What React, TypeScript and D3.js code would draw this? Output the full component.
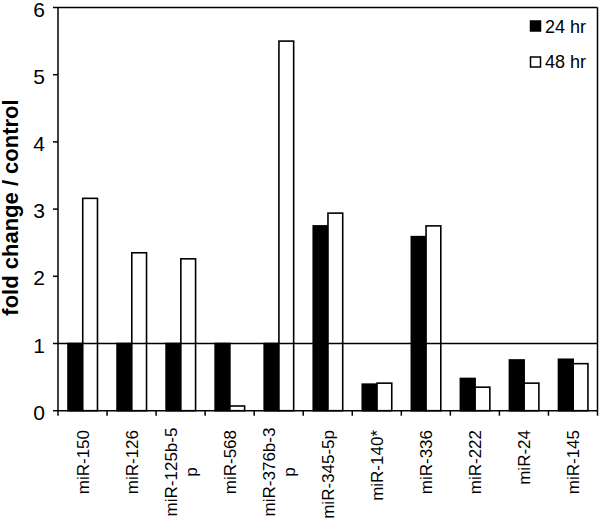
import React from "react";
import * as d3 from "d3";

const categories = [
  ["miR-150"],
  ["miR-126"],
  ["miR-125b-5", "p"],
  ["miR-568"],
  ["miR-376b-3", "p"],
  ["miR-345-5p"],
  ["miR-140*"],
  ["miR-336"],
  ["miR-222"],
  ["miR-24"],
  ["miR-145"],
];
const series24 = [1, 1, 1, 1, 1, 2.75, 0.395, 2.59, 0.48, 0.755, 0.765];
const series48 = [3.16, 2.35, 2.26, 0.07, 5.5, 2.94, 0.41, 2.75, 0.35, 0.41, 0.7];
const seriesNames = ["24 hr", "48 hr"];
const yTicks = [0, 1, 2, 3, 4, 5, 6];

const W = 600;
const H = 519;
const left = 58;
const right = 597.5;
const top = 7.5;
const bottom = 410.7;

export default function App() {
  const keys = categories.map((c) => c.join(""));
  const x0 = d3.scaleBand<string>().domain(keys).range([left, right]).padding(0);
  const bw = x0.bandwidth();
  const x1 = d3
    .scaleBand<string>()
    .domain(seriesNames)
    .range([bw * 0.204, bw * 0.805])
    .padding(0);
  const y = d3.scaleLinear().domain([0, 6]).range([bottom, top]);
  const font = "'Liberation Sans', Arial, sans-serif";
  const data = [series24, series48];

  return (
    <svg
      width={W}
      height={H}
      style={{ position: "absolute", left: 0, top: 0, background: "#fff" }}
      fontFamily={font}
    >
      <rect x={0} y={0} width={W} height={H} fill="#fff" />
      {keys.map((k, i) =>
        seriesNames.map((s, j) => {
          const v = data[j][i];
          return (
            <rect
              key={k + s}
              x={(x0(k) as number) + (x1(s) as number)}
              y={y(v)}
              width={x1.bandwidth()}
              height={y(0) - y(v)}
              fill={j === 0 ? "#000" : "#fff"}
              stroke="#000"
              strokeWidth={1.6}
            />
          );
        })
      )}
      <line x1={left} x2={right} y1={y(1)} y2={y(1)} stroke="#000" strokeWidth={1.5} />
      <line x1={left} x2={right} y1={top} y2={top} stroke="#000" strokeWidth={1.5} />
      <line x1={right} x2={right} y1={top} y2={bottom} stroke="#000" strokeWidth={1.5} />
      <line x1={left} x2={left} y1={top} y2={bottom} stroke="#000" strokeWidth={1.5} />
      <line x1={left} x2={right} y1={bottom} y2={bottom} stroke="#000" strokeWidth={1.5} />
      {yTicks.map((t) => (
        <g key={t}>
          <line x1={left - 5} x2={left} y1={y(t)} y2={y(t)} stroke="#000" strokeWidth={1.5} />
          <text x={45} y={y(t) + 1.5} dy="0.36em" textAnchor="end" fontSize={21} fill="#000">
            {t}
          </text>
        </g>
      ))}
      {[...keys.map((k) => x0(k) as number), right].map((xv, i) => (
        <line key={i} x1={xv} x2={xv} y1={bottom} y2={bottom + 5} stroke="#000" strokeWidth={1.5} />
      ))}
      {categories.map((lines, i) => {
        const cx = (x0(keys[i]) as number) + bw / 2;
        if (lines.length === 1) {
          return (
            <text
              key={i}
              transform={`translate(${cx + 6},430) rotate(-90)`}
              textAnchor="end"
              fontSize={17}
              fill="#000"
            >
              {lines[0]}
            </text>
          );
        }
        return (
          <g key={i}>
            {lines.map((ln, li) => (
              <text
                key={li}
                transform={`translate(${cx - 3.5 + li * 20},472) rotate(-90)`}
                textAnchor="middle"
                fontSize={17}
                fill="#000"
              >
                {ln}
              </text>
            ))}
          </g>
        );
      })}
      <text
        transform={`translate(18,207.5) rotate(-90)`}
        textAnchor="middle"
        fontSize={22}
        fontWeight="bold"
        fill="#000"
      >
        fold change / control
      </text>
      {seriesNames.map((s, j) => (
        <g key={s}>
          <rect
            x={530.5}
            y={21 + j * 36}
            width={10}
            height={10}
            fill={j === 0 ? "#000" : "#fff"}
            stroke="#000"
            strokeWidth={1.5}
          />
          <text x={545} y={33 + j * 35} fontSize={18} fill="#000">
            {s}
          </text>
        </g>
      ))}
    </svg>
  );
}
